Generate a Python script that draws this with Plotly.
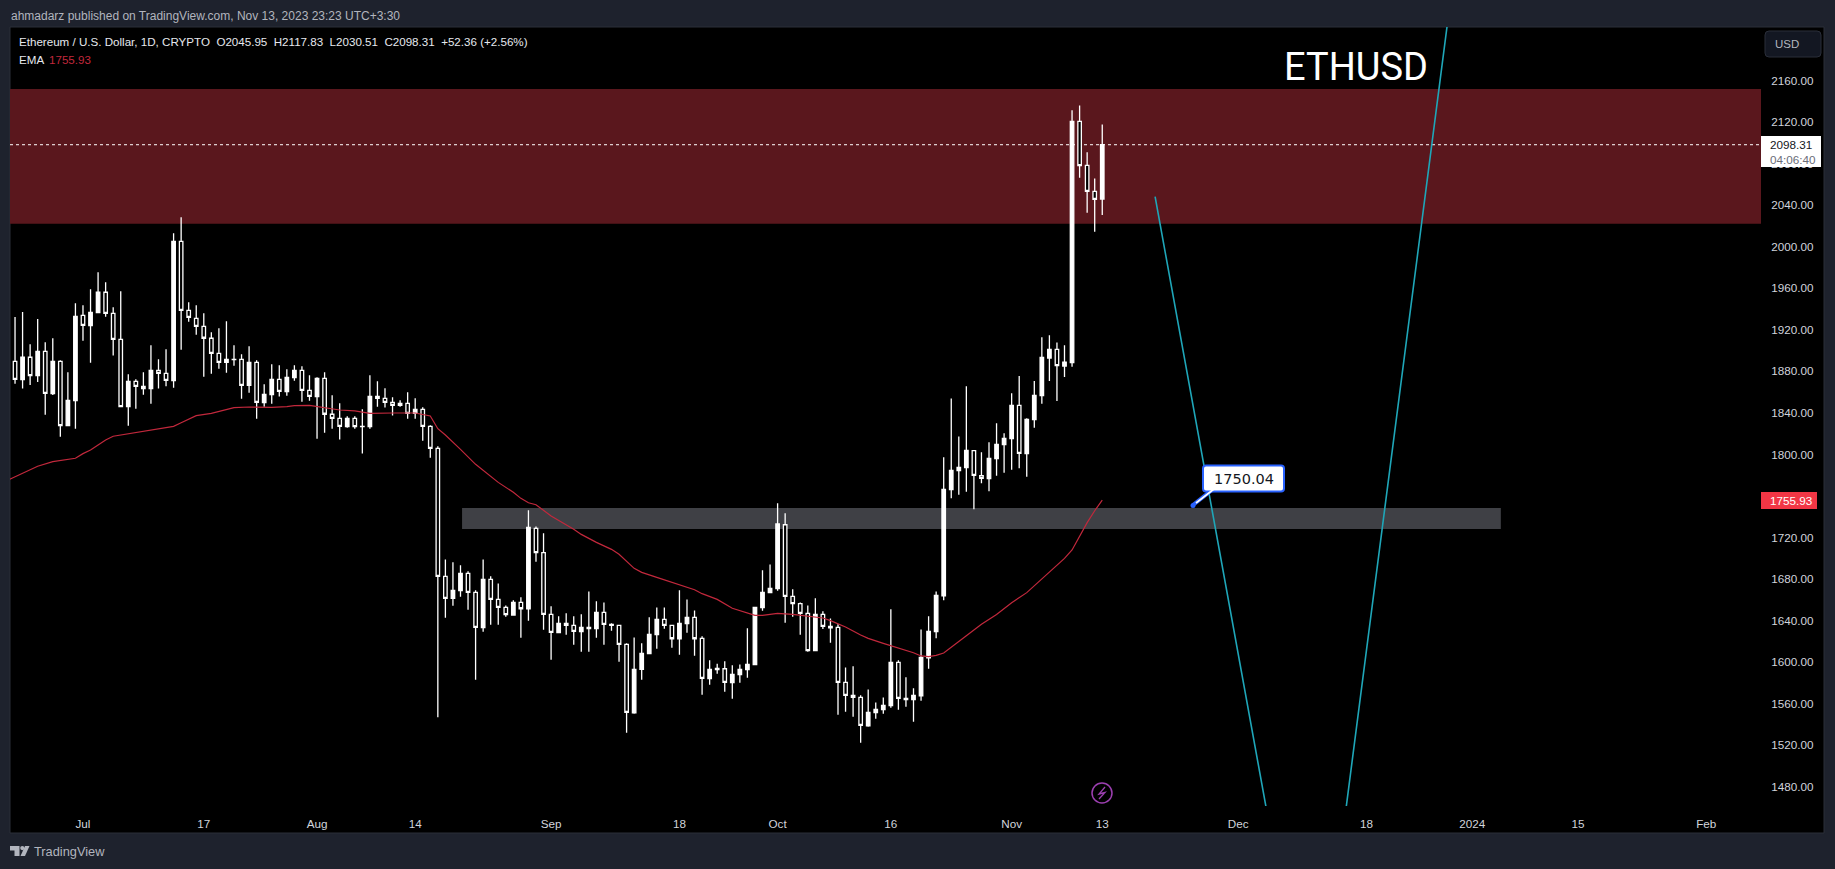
import pandas as pd
import plotly.graph_objs as go

# ETHUSD daily candles, first candle is 2023-06-21
first_day = "2023-06-21"
opens = [
    1890.0, 1889.7, 1872.0, 1893.6, 1875.9, 1899.3, 1858.6, 1889.7, 1827.7, 1851.8,
    1934.0, 1924.1, 1936.6, 1956.2, 1935.9, 1910.9, 1846.0, 1870.4, 1865.6, 1863.4,
    1881.0, 1878.1, 1871.1, 2005.3, 1938.8, 1931.1, 1923.4, 1911.9, 1897.4, 1888.7,
    1891.6, 1891.6, 1866.6, 1888.7, 1849.9, 1857.6, 1872.4, 1860.5, 1874.0, 1881.0,
    1861.8, 1855.7, 1873.3, 1838.7, 1834.8, 1826.8, 1834.8, 1827.1, 1826.8, 1856.0,
    1854.1, 1850.2, 1847.3, 1849.2, 1839.6, 1843.5, 1827.1, 1805.9, 1682.6, 1661.4,
    1668.8, 1685.5, 1667.2, 1633.2, 1679.7, 1660.4, 1652.7, 1645.3, 1657.5, 1651.4,
    1728.8, 1705.4, 1646.0, 1628.3, 1637.3, 1635.4, 1629.3, 1632.2, 1632.2, 1647.9,
    1636.3, 1635.4, 1617.1, 1551.2, 1593.0, 1608.1, 1626.4, 1641.2, 1635.4, 1622.5,
    1637.0, 1643.1, 1622.9, 1584.0, 1592.7, 1593.6, 1580.2, 1587.9, 1592.7, 1597.5,
    1652.4, 1666.9, 1670.7, 1732.3, 1663.3, 1656.3, 1647.0, 1611.0, 1646.0, 1633.1,
    1633.5, 1580.5, 1568.0, 1566.0, 1538.7, 1551.3, 1554.2, 1558.0, 1599.7, 1563.8,
    1563.8, 1567.6, 1604.2, 1629.3, 1663.9, 1766.1, 1784.4, 1787.3, 1803.6, 1779.6,
    1776.7, 1795.9, 1809.4, 1815.2, 1847.3, 1800.7, 1833.5, 1856.6, 1892.9, 1901.2,
    1885.2, 1888.4, 2120.8, 2078.4, 2053.4, 2045.95,
]
highs = [
    1890.0, 1932.4, 1937.2, 1906.1, 1930.5, 1908.0, 1911.9, 1890.7, 1879.1, 1945.6,
    1943.6, 1959.0, 1975.4, 1965.8, 1941.7, 1957.1, 1877.2, 1872.4, 1879.1, 1905.1,
    1891.6, 1901.3, 2013.0, 2028.4, 1946.5, 1943.6, 1935.9, 1917.6, 1921.5, 1928.2,
    1905.1, 1896.4, 1904.1, 1890.7, 1867.5, 1886.8, 1885.8, 1882.0, 1885.8, 1884.9,
    1876.2, 1874.3, 1879.1, 1856.9, 1849.2, 1836.7, 1836.7, 1843.5, 1876.2, 1870.4,
    1863.7, 1855.0, 1852.1, 1859.8, 1854.1, 1845.4, 1828.1, 1807.8, 1698.9, 1696.1,
    1693.2, 1687.4, 1669.1, 1698.9, 1682.6, 1675.8, 1654.6, 1659.5, 1662.4, 1746.2,
    1730.7, 1724.0, 1653.7, 1644.1, 1647.0, 1644.1, 1646.0, 1668.1, 1658.5, 1657.5,
    1637.3, 1635.4, 1618.1, 1623.8, 1618.1, 1643.1, 1652.7, 1652.7, 1635.4, 1669.1,
    1660.4, 1649.8, 1624.8, 1601.7, 1598.5, 1600.7, 1596.9, 1597.8, 1632.5, 1652.7,
    1688.4, 1694.1, 1752.9, 1743.3, 1670.1, 1657.5, 1654.6, 1661.4, 1648.9, 1642.1,
    1636.4, 1594.9, 1595.9, 1568.0, 1573.7, 1561.2, 1566.0, 1650.8, 1601.7, 1585.3,
    1574.7, 1631.5, 1644.1, 1668.1, 1797.2, 1854.0, 1817.4, 1865.6, 1803.9, 1802.0,
    1811.7, 1830.0, 1820.3, 1858.9, 1875.5, 1834.8, 1870.7, 1912.8, 1914.7, 1907.9,
    1905.1, 2131.4, 2136.2, 2091.0, 2065.9, 2117.83,
]
lows = [
    1791.5, 1868.2, 1863.4, 1866.9, 1869.8, 1838.3, 1857.3, 1817.1, 1827.7, 1824.8,
    1909.6, 1888.4, 1935.9, 1932.7, 1895.2, 1846.0, 1827.7, 1844.1, 1857.6, 1848.9,
    1863.4, 1865.6, 1864.3, 1900.9, 1927.9, 1915.4, 1874.9, 1877.8, 1882.6, 1878.8,
    1885.5, 1853.7, 1859.5, 1834.5, 1846.0, 1848.9, 1855.7, 1856.6, 1871.1, 1850.8,
    1851.8, 1815.2, 1821.0, 1824.8, 1814.3, 1825.8, 1824.8, 1800.8, 1824.8, 1846.0,
    1845.1, 1837.4, 1846.0, 1834.5, 1834.5, 1813.3, 1796.9, 1546.8, 1642.8, 1654.3,
    1663.0, 1650.5, 1583.1, 1629.3, 1636.0, 1636.0, 1643.7, 1645.3, 1623.5, 1639.9,
    1696.7, 1631.2, 1602.3, 1628.3, 1626.4, 1616.8, 1610.0, 1610.0, 1623.5, 1616.8,
    1630.2, 1600.4, 1532.0, 1550.3, 1583.1, 1608.1, 1612.9, 1632.2, 1613.9, 1607.1,
    1628.3, 1606.2, 1568.6, 1578.2, 1588.8, 1571.5, 1564.7, 1580.2, 1585.0, 1597.5,
    1649.5, 1666.9, 1668.8, 1637.9, 1643.7, 1626.4, 1610.0, 1611.0, 1631.9, 1618.7,
    1549.3, 1552.2, 1547.4, 1522.4, 1537.8, 1545.5, 1550.3, 1556.1, 1554.2, 1557.1,
    1542.6, 1562.8, 1593.7, 1622.9, 1659.5, 1757.7, 1761.2, 1764.1, 1747.1, 1772.2,
    1764.5, 1779.6, 1782.4, 1785.3, 1786.6, 1778.6, 1825.8, 1848.8, 1870.7, 1851.4,
    1874.6, 1884.5, 2066.6, 2032.8, 2014.5, 2030.51,
]
closes = [
    1791.5, 1872.4, 1893.6, 1875.9, 1899.3, 1858.9, 1889.7, 1827.7, 1852.1, 1933.0,
    1924.4, 1936.9, 1956.2, 1935.9, 1910.9, 1846.0, 1870.4, 1865.6, 1863.4, 1881.0,
    1878.1, 1871.4, 2005.3, 1938.8, 1932.1, 1923.4, 1911.9, 1897.4, 1888.7, 1891.6,
    1891.3, 1866.6, 1888.7, 1850.2, 1857.9, 1872.4, 1860.8, 1874.3, 1881.0, 1861.8,
    1856.0, 1873.3, 1838.7, 1834.8, 1827.1, 1834.8, 1826.8, 1826.8, 1856.0, 1854.1,
    1850.2, 1847.3, 1849.2, 1839.6, 1843.5, 1827.1, 1805.9, 1682.6, 1661.4, 1669.1,
    1685.5, 1667.2, 1633.5, 1679.7, 1660.4, 1652.7, 1645.7, 1657.5, 1651.4, 1729.8,
    1705.4, 1646.0, 1628.6, 1637.3, 1635.4, 1629.6, 1633.5, 1633.5, 1647.9, 1636.3,
    1635.4, 1617.1, 1551.6, 1593.0, 1608.4, 1626.7, 1641.2, 1635.4, 1622.5, 1637.3,
    1643.1, 1622.5, 1584.3, 1593.0, 1594.0, 1580.5, 1588.2, 1593.0, 1597.8, 1652.7,
    1667.2, 1671.0, 1733.0, 1663.3, 1656.3, 1647.0, 1611.0, 1646.0, 1634.4, 1634.4,
    1580.5, 1568.0, 1566.0, 1539.1, 1551.6, 1554.5, 1558.3, 1599.7, 1565.1, 1565.1,
    1568.0, 1604.6, 1629.6, 1664.3, 1766.4, 1784.7, 1787.6, 1803.9, 1779.9, 1777.0,
    1796.2, 1809.7, 1815.5, 1847.3, 1801.1, 1833.8, 1856.9, 1893.5, 1901.2, 1885.5,
    1889.0, 2120.8, 2078.1, 2053.4, 2045.7, 2098.31,
]

# EMA vertices, days counted from 2023-07-01
ema_days = [
    -10, -8, -6, -4, -1, 0, 1, 2, 3, 4, 5, 7, 9, 12, 13, 15, 17, 18, 20, 22, 25, 27, 28, 30, 32, 34, 36, 38,
    41, 44, 46, 47, 48, 49, 50, 52, 53, 55, 57, 58, 59, 60, 62, 64, 65, 66, 68, 70, 71, 73, 74, 76, 78, 79,
    81, 82, 84, 86, 88, 89, 90, 92, 94, 96, 97, 98, 99, 100, 101, 103, 104, 106, 108, 110, 111, 112, 113,
    114, 117, 118, 119, 121, 122, 123, 125, 127, 128, 130, 131, 133, 134, 135,
]
ema_values = [
    1775.1, 1781.8, 1788.6, 1793.1, 1796.3, 1800.8, 1804.3, 1809.1, 1813.9, 1817.5, 1818.7, 1820.4, 1822.9,
    1827.1, 1830.6, 1837.4, 1839.6, 1841.2, 1845.1, 1845.7, 1845.4, 1846.0, 1847.0, 1847.3, 1844.8, 1842.8,
    1841.9, 1839.6, 1839.9, 1839.9, 1837.0, 1824.8, 1818.7, 1811.3, 1804.9, 1790.5, 1784.7, 1773.1, 1763.5,
    1757.7, 1753.5, 1751.6, 1740.7, 1732.7, 1727.9, 1723.0, 1715.3, 1708.6, 1703.8, 1690.3, 1686.4, 1681.6,
    1676.8, 1673.9, 1669.7, 1665.9, 1660.4, 1651.8, 1646.9, 1645.0, 1645.0, 1646.9, 1646.0, 1644.1, 1643.7,
    1642.5, 1639.9, 1636.7, 1633.8, 1626.1, 1622.9, 1618.1, 1613.9, 1609.0, 1605.9, 1605.2, 1606.5, 1608.7,
    1625.4, 1630.9, 1636.4, 1645.9, 1651.8, 1657.2, 1666.9, 1680.0, 1687.4, 1699.9, 1708.0, 1734.3, 1745.8,
    1755.93,
]

# hand drawn projection, the zones and the axis labels
path_dates = ["2023-11-20", "2023-12-10 21:36", "2023-12-29 07:00"]
path_prices = [2048.3, 1212.0, 2247.4]
supply_zone = [2022.3, 2152.0]
demand_zone = [1728.2, 1748.4]
demand_dates = ["2023-08-20 05:00", "2024-01-04 19:00"]
last_price = 2098.31
price_ticks = [2160, 2120, 2080, 2040, 2000, 1960, 1920, 1880, 1840, 1800, 1760, 1720, 1680, 1640, 1600, 1560, 1520, 1480]
time_ticks = [
    "2023-07-01", "2023-07-17", "2023-08-01", "2023-08-14", "2023-09-01", "2023-09-18", "2023-10-01",
    "2023-10-16", "2023-11-01", "2023-11-13", "2023-12-01", "2023-12-18", "2024-01-01", "2024-01-15", "2024-02-01",
]
time_labels = ["Jul", "17", "Aug", "14", "Sep", "18", "Oct", "16", "Nov", "13", "Dec", "18", "2024", "15", "Feb"]

FONT = "Liberation Sans"
PANE_L, PANE_T, PANE_R, PANE_B = 10, 27, 1761, 806


def px(x):
    return (x - PANE_L) / (PANE_R - PANE_L)


def py(y):
    return 1 - (y - PANE_T) / (PANE_B - PANE_T)


def rounded(x0, y0, x1, y1, r):
    # rounded box as a paper-referenced svg path, corners given in screen pixels
    pts = [
        ("M", x0 + r, y0), ("L", x1 - r, y0), ("Q", x1, y0, x1, y0 + r), ("L", x1, y1 - r),
        ("Q", x1, y1, x1 - r, y1), ("L", x0 + r, y1), ("Q", x0, y1, x0, y1 - r), ("L", x0, y0 + r),
        ("Q", x0, y0, x0 + r, y0),
    ]
    out = []
    for p in pts:
        coords = [f"{px(v)},{py(w)}" for v, w in zip(p[1::2], p[2::2])]
        out.append(p[0] + " ".join(coords))
    return " ".join(out) + " Z"


def screen_path(points, close=False):
    d = "M" + " L".join(f"{px(x)},{py(y)}" for x, y in points)
    return d + (" Z" if close else "")


def label(fig, x, y, text, size=11.7, color="#d1d4dc", anchor="left", family=FONT):
    fig.add_annotation(
        x=px(x), y=py(y), xref="paper", yref="paper", text=text, showarrow=False,
        xanchor=anchor, yanchor="middle", borderpad=0, font=dict(family=family, size=size, color=color),
    )


dates = pd.date_range(first_day, periods=len(opens), freq="D")
ema_dates = [pd.Timestamp("2023-07-01") + pd.Timedelta(days=d) for d in ema_days]

fig = go.Figure()
fig.add_trace(
    go.Candlestick(
        x=dates,
        open=opens,
        high=highs,
        low=lows,
        close=closes,
        whiskerwidth=0,
        increasing=dict(line=dict(color="white", width=1.3), fillcolor="white"),
        decreasing=dict(line=dict(color="white", width=1.3), fillcolor="black"),
        showlegend=False,
    )
)
fig.add_trace(go.Scatter(x=ema_dates, y=ema_values, mode="lines", line=dict(color="#c2283c", width=1.2), showlegend=False))
fig.add_trace(go.Scatter(x=path_dates, y=path_prices, mode="lines", line=dict(color="#1fa6b8", width=1.6), showlegend=False))

fig.update_layout(
    width=1835,
    height=869,
    margin=dict(l=PANE_L, r=1835 - PANE_R, t=PANE_T, b=869 - PANE_B, pad=0),
    paper_bgcolor="#1e222d",
    plot_bgcolor="black",
    boxgap=0.34,
    font=dict(family=FONT, size=11.7, color="#d1d4dc"),
    xaxis=dict(
        type="date",
        range=["2023-06-21 08:00", "2024-02-08 06:00"],
        rangeslider=dict(visible=False),
        showgrid=False,
        zeroline=False,
        showline=False,
        tickmode="array",
        tickvals=time_ticks,
        ticktext=time_labels,
        ticks="outside",
        ticklen=7,
        tickcolor="black",
    ),
    yaxis=dict(
        side="right",
        range=[1461.4, 2211.7],
        showgrid=False,
        zeroline=False,
        showline=False,
        tickmode="array",
        tickvals=price_ticks,
        tickformat=".2f",
        ticks="outside",
        ticklen=7,
        tickcolor="black",
    ),
)

# pane background and frame
fig.add_shape(
    type="rect", xref="paper", yref="paper", x0=px(PANE_L), x1=px(1824), y0=py(833), y1=py(PANE_T),
    fillcolor="black", line=dict(color="#2a2e39", width=1), layer="below",
)
fig.add_shape(
    type="rect", xref="x domain", yref="y", x0=0, x1=1, y0=supply_zone[0], y1=supply_zone[1],
    fillcolor="#5a171d", line_width=0, layer="below",
)
fig.add_shape(
    type="rect", x0=demand_dates[0], x1=demand_dates[1], y0=demand_zone[0], y1=demand_zone[1],
    fillcolor="#3f4045", line_width=0, layer="below",
)
fig.add_shape(
    type="line", xref="x domain", yref="y", x0=0, x1=1, y0=last_price, y1=last_price,
    line=dict(color="white", width=1, dash="dot"), layer="below",
)

# price scale labels, they sit on top of the 2080 and 1760 ticks like on the original
fig.add_shape(type="rect", xref="paper", yref="paper", x0=px(1761), x1=px(1821), y0=py(167), y1=py(136), fillcolor="white", line_width=0, layer="above")
fig.add_shape(type="rect", xref="paper", yref="paper", x0=px(1761), x1=px(1817), y0=py(509), y1=py(492), fillcolor="#f23645", line_width=0, layer="above")
label(fig, 1769, 144.5, "2098.31", color="#131722")
label(fig, 1769, 159.5, "04:06:40", color="#6a6d78")
label(fig, 1769, 500.5, "1755.93", color="white")

# USD button
fig.add_shape(type="path", xref="paper", yref="paper", path=rounded(1765, 31, 1821, 57, 4), fillcolor="#131722", line=dict(color="#2a2e39", width=1), layer="above")
label(fig, 1774, 44.5, "USD", size=11.5, color="#b2b5be")

# note callout
fig.add_shape(type="path", xref="paper", yref="paper", path=screen_path([(1193, 505), (1212, 490)]), line=dict(color="#2962ff", width=4), layer="above")
fig.add_shape(type="path", xref="paper", yref="paper", path=rounded(1203, 465.5, 1284, 491.5, 3), fillcolor="white", line=dict(color="#2962ff", width=2), layer="above")
fig.add_shape(type="path", xref="paper", yref="paper", path=screen_path([(1196, 503), (1214, 489)]), line=dict(color="white", width=1.6), layer="above")
fig.add_shape(type="circle", xref="paper", yref="paper", x0=px(1190.5), x1=px(1195.5), y0=py(508), y1=py(503), fillcolor="#2962ff", line_width=0, layer="above")
label(fig, 1244, 478.5, "1750.04", size=14.5, color="#131722", anchor="center", family="DejaVu Sans")

# flash marker on the time axis
fig.add_shape(type="circle", xref="paper", yref="paper", x0=px(1092), x1=px(1112), y0=py(803), y1=py(783), line=dict(color="#9c3fb0", width=1.5), fillcolor="black", layer="above")
fig.add_shape(type="path", xref="paper", yref="paper", path=screen_path([(1105, 787), (1099, 794), (1105, 792.5), (1099, 799)]), line=dict(color="#9c3fb0", width=1.3), layer="above")

# TradingView logo
fig.add_shape(type="path", xref="paper", yref="paper", path=screen_path([(10, 846), (19.5, 846), (19.5, 856), (14.5, 856), (14.5, 850.5), (10, 850.5)], True), fillcolor="#b2b5be", line_width=0)
fig.add_shape(type="circle", xref="paper", yref="paper", x0=px(20.2), x1=px(24.4), y0=py(850.2), y1=py(846), fillcolor="#b2b5be", line_width=0)
fig.add_shape(type="path", xref="paper", yref="paper", path=screen_path([(25, 846), (29.5, 846), (25, 856), (20.5, 856)], True), fillcolor="#b2b5be", line_width=0)

label(fig, 10, 15.5, "ahmadarz published on TradingView.com, Nov 13, 2023 23:23 UTC+3:30", size=12, color="#b2b5be")
label(fig, 18, 41.5, "Ethereum / U.S. Dollar, 1D, CRYPTO  O2045.95  H2117.83  L2030.51  C2098.31  +52.36 (+2.56%)", size=11.6, color="#e6e8ee")
label(fig, 18, 59, "EMA", size=11.6, color="#e6e8ee")
label(fig, 48, 59, "1755.93", size=11.6, color="#c2283c")
label(fig, 1356, 66.5, "ETHUSD", size=38, color="white", anchor="center", family="Roboto")
label(fig, 33, 851.5, "TradingView", size=12.8, color="#b2b5be")

fig.write_html("out.html", config=dict(displayModeBar=False), post_script="document.body.style.margin='0';")
